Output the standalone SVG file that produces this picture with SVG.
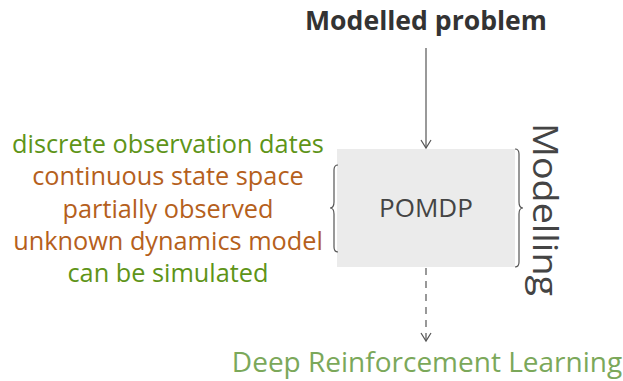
<svg xmlns="http://www.w3.org/2000/svg" width="623" height="381" viewBox="0 0 623 381">
<defs>
<style>
text{font-family:"Open Sans","Noto Sans","DejaVu Sans",sans-serif;}
.g{fill:#5e9418;}
.o{fill:#b5601c;}
.l{font-size:25.3px;text-anchor:middle;}
.conn{stroke:#555;stroke-width:1.2;fill:none;}
.br{stroke:#555;stroke-width:1.2;fill:none;}
</style>
<marker id="ah" viewBox="0 0 12 12" refX="10" refY="6" markerWidth="12" markerHeight="12" markerUnits="userSpaceOnUse" orient="auto">
<path d="M2,1 L10,6 L2,11" fill="none" stroke="#555" stroke-width="1.2"/>
</marker>
</defs>
<rect width="623" height="381" fill="#fff"/>
<g id="problem"><text x="426" y="30" text-anchor="middle" font-size="26.6" font-weight="bold" fill="#333">Modelled problem</text></g>
<g id="pomdp">
<rect x="337" y="149" width="178" height="118" fill="#ebebeb"/>
<text x="426" y="217" text-anchor="middle" font-size="26" fill="#444">POMDP</text>
</g>
<g id="properties">
<text class="l g" x="168" y="153">discrete observation dates</text>
<text class="l o" x="168" y="185">continuous state space</text>
<text class="l o" x="168" y="217.5">partially observed</text>
<text class="l o" x="168" y="249.5">unknown dynamics model</text>
<text class="l g" x="168" y="282">can be simulated</text>
<path class="br" d="M338,165 Q334,165 334,170 L334,202 Q334,208 330,208 Q334,208 334,214 L334,247 Q334,252 338,252"/>
</g>
<g id="modelling">
<path class="br" d="M515,149 Q519,149 519,154 L519,202 Q519,208 523,208 Q519,208 519,214 L519,262 Q519,267 515,267"/>
<text transform="translate(533,123) rotate(90)" font-size="34" fill="#444" textLength="173" lengthAdjust="spacingAndGlyphs">Modelling</text>
</g>
<g id="drl"><text x="427" y="372" text-anchor="middle" font-size="28" fill="#7ba85a">Deep Reinforcement Learning</text></g>
<g id="connectors">
<line class="conn" x1="426" y1="48" x2="426" y2="148" marker-end="url(#ah)"/>
<line class="conn" x1="426" y1="268" x2="426" y2="341" stroke-dasharray="7,6" marker-end="url(#ah)"/>
</g>
</svg>
